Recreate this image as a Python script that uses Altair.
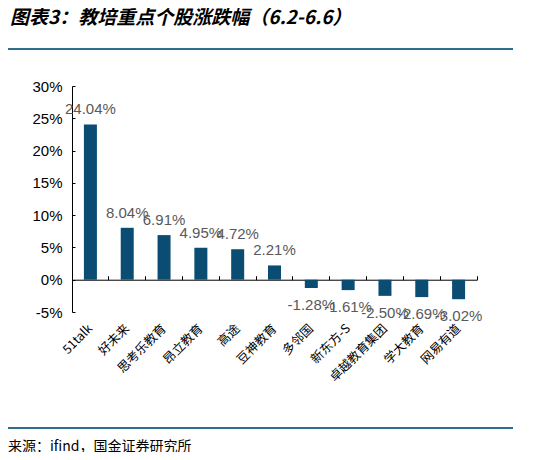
import pandas as pd
import altair as alt

# Data
names = ['51talk', '好未来', '思考乐教育', '昂立教育', '高途', '豆神教育',
         '多邻国', '新东方-S', '卓越教育集团', '学大教育', '网易有道']
changes = [24.04, 8.04, 6.91, 4.95, 4.72, 2.21, -1.28, -1.61, -2.50, -2.69, -3.02]
y_ticks = [-5, 0, 5, 10, 15, 20, 25, 30]

title_text = '图表3：教培重点个股涨跌幅（6.2-6.6）'
source_text = '来源：ifind，国金证券研究所'

df = pd.DataFrame({'name': names, 'change': changes})
df['label'] = df['change'].map(lambda v: f'{v:.2f}%')

W, H = 405, 226
zero_off = -H * 30 / 35   # moves the top axis down onto the 0% line

xscale = alt.Scale(domain=names, paddingInner=0, paddingOuter=0)
yscale = alt.Scale(domain=[-5, 30], nice=False)
base = alt.Chart(df)

# Bars + bottom category labels + left y labels
bars = base.mark_bar(size=13, color='#0A4C72').encode(
    x=alt.X('name:N', sort=names, scale=xscale, title=None,
            axis=alt.Axis(domain=False, ticks=False, labelAngle=-45, labelAlign='right',
                          labelBaseline='middle', labelPadding=14, labelFont='Noto Sans CJK SC',
                          labelFontSize=12.5, labelColor='black')),
    y=alt.Y('change:Q', scale=yscale, title=None,
            axis=alt.Axis(values=y_ticks, labelExpr="datum.value + '%'", domainColor='black',
                          ticks=False, grid=False, labelPadding=10, labelFontSize=15,
                          labelFont='Liberation Sans', labelColor='black'))
)

# Positive labels; this layer also carries the zero line axis and inward y ticks
pos = base.transform_filter('datum.change >= 0').mark_text(
    dy=-15, fontSize=15, color='#595959', font='Liberation Sans'
).encode(
    x=alt.X('name:N', sort=names, scale=xscale, title=None,
            axis=alt.Axis(orient='top', offset=zero_off, labels=False, domainColor='black',
                          tickColor='black', tickSize=4, bandPosition=1, grid=False)),
    y=alt.Y('change:Q', scale=yscale, title=None,
            axis=alt.Axis(orient='right', offset=-W, labels=False, domain=False,
                          tickColor='black', tickSize=3, values=y_ticks, grid=False)),
    text='label:N'
)

neg = base.transform_filter('datum.change < 0').mark_text(
    dy=17, fontSize=15, color='#595959', font='Liberation Sans'
).encode(
    x=alt.X('name:N', sort=names, scale=xscale, axis=None),
    y=alt.Y('change:Q', scale=yscale, axis=None),
    text='label:N'
)

one = pd.DataFrame({'t': [title_text], 's': [source_text]})
rule_top = alt.Chart(one).mark_rule(color='#2F6E8D', strokeWidth=2).encode(
    x=alt.value(-67), x2=alt.value(441), y=alt.value(-37))
rule_bot = alt.Chart(one).mark_rule(color='#2F6E8D', strokeWidth=2).encode(
    x=alt.value(-67), x2=alt.value(441), y=alt.value(342))

title_mark = alt.Chart(one).mark_text(
    align='left', baseline='middle', fontSize=19, fontWeight='bold', fontStyle='italic',
    font='Noto Sans CJK SC', color='black'
).encode(x=alt.value(-62), y=alt.value(-68), text='t:N')

source_mark = alt.Chart(one).mark_text(
    align='left', baseline='middle', fontSize=14, font='Noto Sans CJK SC', color='black'
).encode(x=alt.value(-64), y=alt.value(361), text='s:N')

chart = alt.layer(bars, pos, neg, rule_top, rule_bot, title_mark, source_mark).resolve_axis(
    x='independent', y='independent'
).properties(
    width=W, height=H,
    padding={'left': 64, 'top': 78, 'right': 56, 'bottom': 140},
    autosize=alt.AutoSizeParams(type='none')
).configure_view(stroke=None)

chart.save('out.html', embed_options={'renderer': 'svg', 'actions': False})
